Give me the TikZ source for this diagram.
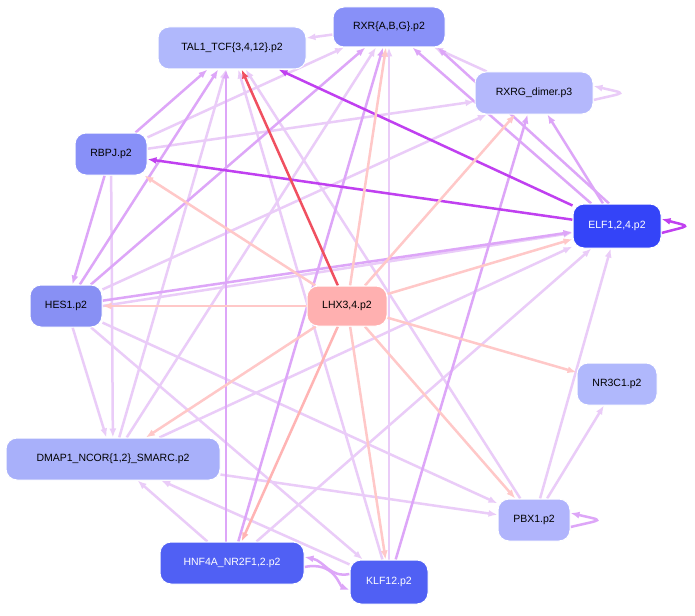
\documentclass[tikz,border=0pt]{standalone}
\usepackage{fontspec}
\setmainfont{Liberation Sans}
\usetikzlibrary{arrows.meta,backgrounds}
\definecolor{lp}{HTML}{EACCF8}
\definecolor{mp}{HTML}{DDA6F8}
\definecolor{sp}{HTML}{C040F0}
\definecolor{pk}{HTML}{FFC8C8}
\definecolor{pk2}{HTML}{FFB4B4}
\definecolor{rd}{HTML}{F05060}
\begin{document}
\begin{tikzpicture}[x=1pt,y=-1pt,
  n/.style={draw=white,line width=1pt,rounded corners=11pt,minimum height=42pt,inner sep=3pt,font=\fontsize{10.5}{12}\selectfont,text=black},
  e/.style={-{Latex[length=9pt,width=7pt]},line width=2.5pt},
  L/.style={e,lp},M/.style={e,mp},S/.style={e,sp},P/.style={e,pk},P2/.style={e,pk2}]
\node[n,fill={rgb,255:red,176;green,184;blue,252},minimum width=148pt] (tal) at (232,48) {TAL1\_TCF\{3,4,12\}.p2};
\node[n,fill={rgb,255:red,136;green,144;blue,248},minimum width=112pt,minimum height=40pt] (rxr) at (389,27) {RXR\{A,B,G\}.p2};
\node[n,fill={rgb,255:red,180;green,184;blue,252},minimum width=118pt] (rxrg) at (534,93) {RXRG\_dimer.p3};
\node[n,fill={rgb,255:red,136;green,144;blue,248},minimum width=72pt] (rbpj) at (111,154) {RBPJ.p2};
\node[n,fill={rgb,255:red,52;green,68;blue,248},minimum width=88pt,minimum height=44pt,text=white] (elf) at (617,226) {ELF1,2,4.p2};
\node[n,fill={rgb,255:red,136;green,144;blue,244},minimum width=72pt] (hes) at (66,306) {HES1.p2};
\node[n,fill={rgb,255:red,255;green,176;blue,176},minimum width=80pt,minimum height=40pt] (lhx) at (347,306) {LHX3,4.p2};
\node[n,fill={rgb,255:red,176;green,184;blue,252},minimum width=80pt] (nr) at (617,384) {NR3C1.p2};
\node[n,fill={rgb,255:red,168;green,176;blue,250},minimum width=214pt] (dm) at (113,459) {DMAP1\_NCOR\{1,2\}\_SMARC.p2};
\node[n,fill={rgb,255:red,176;green,180;blue,252},minimum width=72pt] (pbx) at (534,520) {PBX1.p2};
\node[n,fill={rgb,255:red,80;green,96;blue,244},minimum width=144pt,text=white] (hnf) at (232,563) {HNF4A\_NR2F1,2.p2};
\node[n,fill={rgb,255:red,80;green,96;blue,244},minimum width=78pt,minimum height=44pt,text=white] (klf) at (389,582) {KLF12.p2};
\begin{scope}[on background layer]
\fill[white] (0,0) rectangle (695,615);
% light purple
\draw[L] (rbpj) -- (rxrg);
\draw[L] (rbpj) -- (rxr);
\draw[L] (rbpj) -- (dm);
\draw[L] (hes) -- (rxrg);
\draw[L] (hes) -- (dm);
\draw[L] (hes) -- (pbx);
\draw[L] (hes) -- (klf);
\draw[L] (hes.east) -- (elf);
\draw[L] (dm) -- (rxr);
\draw[L] (dm) -- (tal);
\draw[L] (dm) -- (pbx);
\draw[L] (dm) -- (elf);
\draw[L] (hnf) -- (elf);
\draw[L] (hnf) -- (dm);
\draw[L] (klf) -- (dm);
\draw[L] (klf) -- (rxr);
\draw[L] (klf) -- (tal);
\draw[L] (pbx) -- (tal);
\draw[L] (pbx) -- (elf);
\draw[L] (pbx) -- (nr);
\draw[L] (rxrg) -- (rxr);
\draw[L] (rxr) -- (tal);
\draw[L] ([yshift=-7pt]rxrg.east) .. controls +(34,-8) and +(34,8) .. ([yshift=7pt]rxrg.east);
% medium purple
\draw[M] (hes) -- (tal);
\draw[M] (hes) -- (rxr);
\draw[M] (rbpj) -- (tal);
\draw[M] (rbpj) -- (hes);
\draw[M] (hes) -- ([yshift=-6pt]elf.west);
\draw[M] ([xshift=-6pt]hnf.north) -- ([xshift=-6pt]tal.south);
\draw[M] (hnf) -- (rxr);
\draw[M] (klf) -- (rxrg);
\draw[M] (elf) -- (rxr);
\draw[M] ([xshift=-8pt]elf.north) -- ([xshift=-8pt]rxr.south east);
\draw[M] (elf) -- (rxrg);
\draw[M] ([yshift=-4pt]hnf.east) .. controls +(30,-6) and +(-10,-4) .. ([yshift=-8pt]klf.west);
\draw[M] ([yshift=8pt]klf.west) .. controls +(-20,4) and +(20,4) .. ([yshift=6pt]hnf.east);
\draw[M] ([yshift=-7pt]pbx.east) .. controls +(34,-8) and +(34,8) .. ([yshift=7pt]pbx.east);
% strong purple
\draw[S] (elf) -- (tal);
\draw[S] (elf) -- (rbpj);
\draw[S] ([yshift=-7pt]elf.east) .. controls +(30,-8) and +(30,8) .. ([yshift=7pt]elf.east);
% pink
\draw[P] (lhx) -- (rbpj);
\draw[P] (lhx) -- (hes);
\draw[P] (lhx) -- (elf);
\draw[P] (lhx) -- (nr);
\draw[P] (lhx) -- (pbx);
\draw[P] (lhx) -- (klf);
\draw[P] (lhx) -- (dm);
\draw[P] (lhx) -- (rxr);
\draw[P] (lhx) -- (rxrg);
\draw[P2] (lhx) -- (hnf);
\draw[e,rd] (lhx) -- (tal);
\end{scope}
\useasboundingbox (0,0) rectangle (695,615);
\end{tikzpicture}
\end{document}
